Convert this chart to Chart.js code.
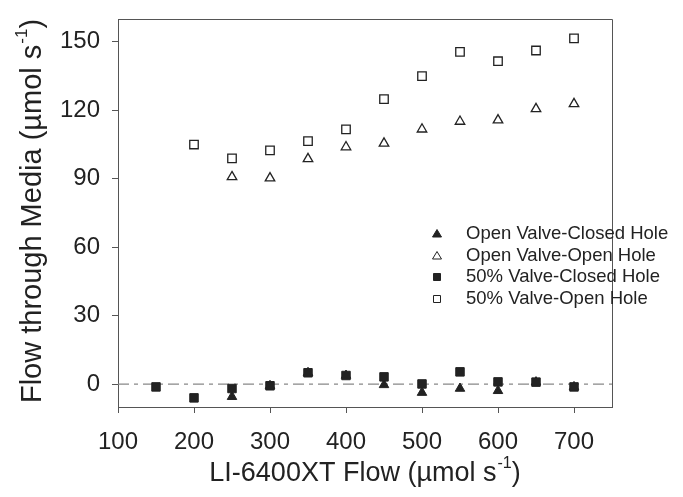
<!DOCTYPE html>
<html><head><meta charset="utf-8">
<script src="https://cdn.jsdelivr.net/npm/chart.js@4.4.1/dist/chart.umd.min.js"></script>
<style>html,body{margin:0;padding:0;background:#fff}#wrap{width:683px;height:497px;position:relative}</style>
</head><body><div id="wrap"><canvas id="c"></canvas></div>
<script>
// ---- data ----
const seriesLabels = ['Open Valve-Closed Hole','Open Valve-Open Hole','50% Valve-Closed Hole','50% Valve-Open Hole'];
const openValveClosedHoleX = [250,300,350,400,450,500,550,600,650,700];
const openValveClosedHoleY = [-5.5,-0.7,5.0,3.8,-0.3,-3.7,-1.9,-2.9,0.9,-1.2];
const openValveOpenHoleX = [250,300,350,400,450,500,550,600,650,700];
const openValveOpenHoleY = [90.8,90.3,98.7,103.9,105.5,111.7,115.1,115.7,120.6,122.8];
const halfValveClosedHoleX = [150,200,250,300,350,400,450,500,550,600,650,700];
const halfValveClosedHoleY = [-1.2,-6.0,-1.9,-0.7,5.0,3.8,3.2,0.1,5.4,1.0,0.9,-1.2];
const halfValveOpenHoleX = [200,250,300,350,400,450,500,550,600,650,700];
const halfValveOpenHoleY = [105.0,98.9,102.4,106.5,111.6,124.9,135.0,145.6,141.5,146.2,151.5];
const xTickValues = [100,200,300,400,500,600,700];
const yTickValues = [0,30,60,90,120,150];
const xTitle = ['LI-6400XT Flow (µmol s', '-1', ')'];
const yTitle = ['Flow through Media (µmol s', '-1', ')'];

const toPts = (xs, ys) => xs.map((x, i) => ({x: x, y: ys[i]}));
const ink = '#222';
const axisCol = '#555';
const FONT = 'Liberation Sans, Arial, sans-serif';

const datasets = [
  {label: seriesLabels[0], data: toPts(openValveClosedHoleX, openValveClosedHoleY), pointStyle:'triangle', pointRadius:5.5, backgroundColor: ink, borderColor: ink, borderWidth:1, order:4},
  {label: seriesLabels[1], data: toPts(openValveOpenHoleX, openValveOpenHoleY), pointStyle:'triangle', pointRadius:5.5, backgroundColor: '#fff', borderColor: ink, borderWidth:1.3, order:2},
  {label: seriesLabels[2], data: toPts(halfValveClosedHoleX, halfValveClosedHoleY), pointStyle:'rect', pointRadius:6, backgroundColor: ink, borderColor: ink, borderWidth:1, order:3},
  {label: seriesLabels[3], data: toPts(halfValveOpenHoleX, halfValveOpenHoleY), pointStyle:'rect', pointRadius:6, backgroundColor: '#fff', borderColor: ink, borderWidth:1.3, order:1}
];

function drawSupText(ctx, parts, cx, cy, size) {
  const big = size + 'px ' + FONT, small = Math.round(size*0.6) + 'px ' + FONT;
  ctx.font = big; const w0 = ctx.measureText(parts[0]).width; const w2 = ctx.measureText(parts[2]).width;
  ctx.font = small; const w1 = ctx.measureText(parts[1]).width;
  const total = w0 + w1 + w2 + 1;
  let x = cx - total/2;
  ctx.textAlign = 'left'; ctx.textBaseline = 'middle'; ctx.fillStyle = ink;
  ctx.font = big; ctx.fillText(parts[0], x, cy); x += w0 + 1;
  ctx.font = small; ctx.fillText(parts[1], x, cy - size*0.38); x += w1;
  ctx.font = big; ctx.fillText(parts[2], x, cy);
}

const decor = {
  id: 'decor',
  beforeDatasetsDraw(chart) {
    const {ctx, chartArea: a, scales: {y}} = chart;
    const y0 = y.getPixelForValue(0);
    ctx.save();
    ctx.strokeStyle = '#888'; ctx.lineWidth = 1.2; ctx.setLineDash([11,5,4,5]);
    ctx.beginPath(); ctx.moveTo(a.left, y0); ctx.lineTo(a.right, y0); ctx.stroke();
    ctx.restore();
  },
  afterDraw(chart) {
    const {ctx, chartArea: a} = chart;
    ctx.save();
    ctx.strokeStyle = axisCol; ctx.lineWidth = 1;
    ctx.beginPath(); ctx.moveTo(a.left, a.top + 0.5); ctx.lineTo(a.right + 0.5, a.top + 0.5); ctx.lineTo(a.right + 0.5, a.bottom); ctx.stroke();
    // axis titles
    drawSupText(ctx, xTitle, (a.left + a.right)/2, 474, 27);
    ctx.translate(33, 211); ctx.rotate(-Math.PI/2);
    drawSupText(ctx, yTitle, 0, 0, 29);
    ctx.restore();
    // legend
    ctx.save();
    const rows = [234, 256, 277, 299];
    chart.data.datasets.forEach((ds, i) => {
      const yy = rows[i];
      ctx.fillStyle = ds.backgroundColor; ctx.strokeStyle = ds.borderColor; ctx.lineWidth = 1;
      ctx.beginPath();
      if (ds.pointStyle === 'triangle') {
        ctx.moveTo(437, yy - 4.5); ctx.lineTo(441.5, yy + 3); ctx.lineTo(432.5, yy + 3); ctx.closePath();
      } else {
        ctx.rect(433.5, yy - 3.5, 7, 7);
      }
      ctx.fill(); ctx.stroke();
      ctx.fillStyle = ink; ctx.font = '18.5px ' + FONT; ctx.textAlign = 'left'; ctx.textBaseline = 'middle';
      ctx.fillText(ds.label, 466, yy);
    });
    ctx.restore();
  }
};

new Chart(document.getElementById('c'), {
  type: 'scatter',
  data: {datasets},
  options: {
    responsive: true, maintainAspectRatio: false, animation: false,
    layout: {padding: {top: 19, right: 71, left: 0, bottom: 0}},
    plugins: {legend: {display: false}, tooltip: {enabled: false}},
    scales: {
      x: {
        type: 'linear', min: 100, max: 750,
        afterBuildTicks: s => { s.ticks = xTickValues.map(v => ({value: v})); },
        afterFit: s => { s.height = 90; s.paddingLeft = 0; s.paddingRight = 0; },
        grid: {drawOnChartArea: false, drawTicks: true, tickLength: 6, color: axisCol},
        border: {display: true, color: axisCol},
        ticks: {font: {size: 24, family: FONT}, color: ink, padding: 15, maxRotation: 0}
      },
      y: {
        type: 'linear', min: -10, max: 160,
        afterBuildTicks: s => { s.ticks = yTickValues.map(v => ({value: v})); },
        afterFit: s => { s.width = 118; s.paddingTop = 0; s.paddingBottom = 0; },
        grid: {drawOnChartArea: false, drawTicks: true, tickLength: 6, color: axisCol},
        border: {display: true, color: axisCol},
        ticks: {font: {size: 24, family: FONT}, color: ink, padding: 12}
      }
    }
  },
  plugins: [decor]
});
</script></body></html>
